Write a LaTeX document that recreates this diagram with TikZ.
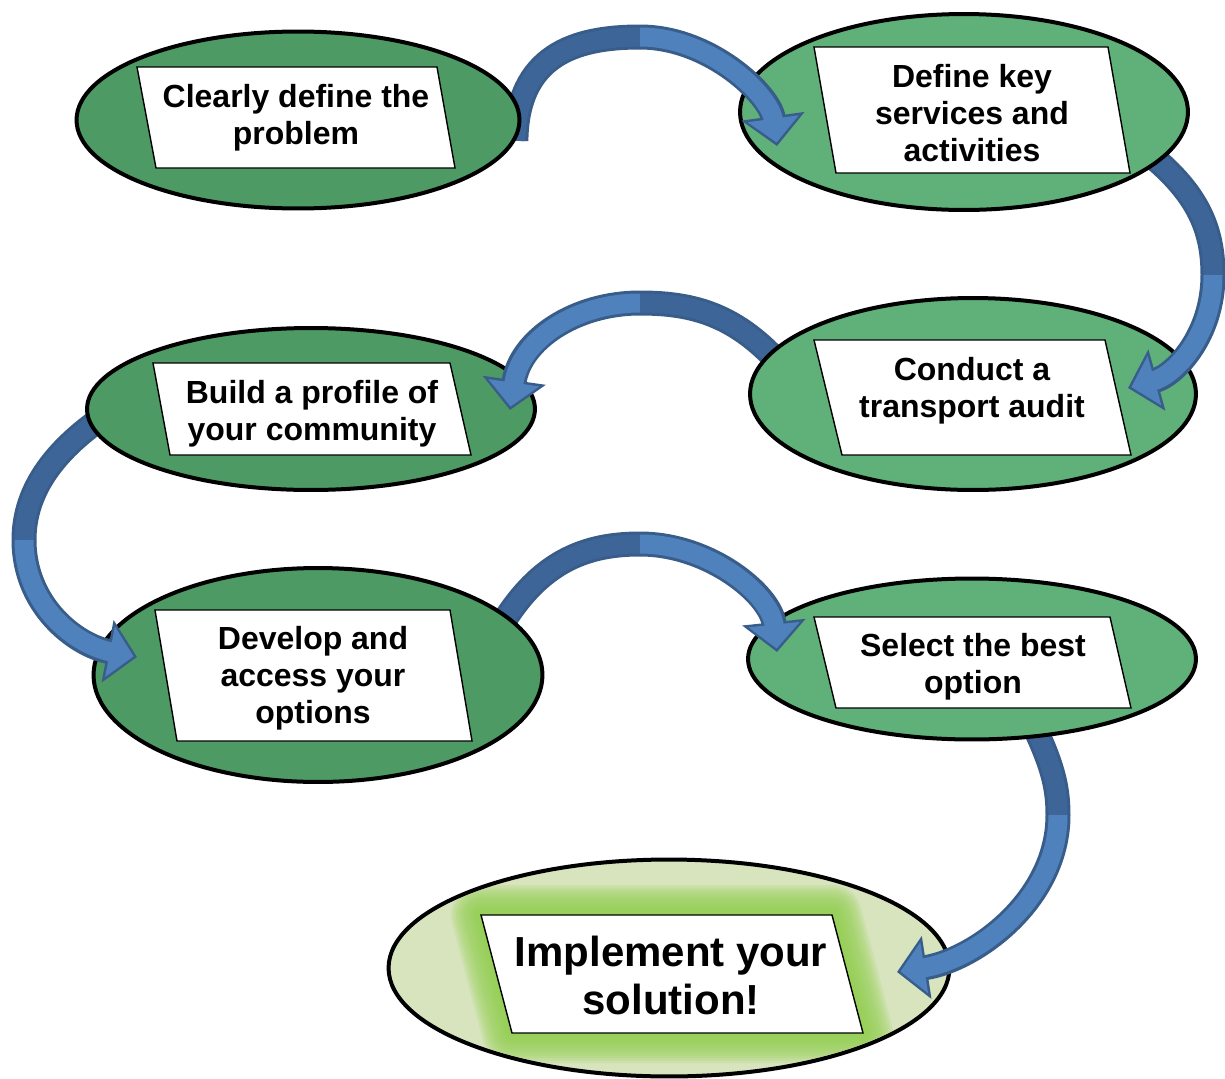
\documentclass[tikz,border=0pt]{standalone}
\usepackage{fontspec}
\setmainfont{Liberation Sans}
\usetikzlibrary{arrows.meta,shapes.geometric,backgrounds}
\definecolor{PLleaf}{RGB}{78,154,101}
\definecolor{PLmint}{RGB}{96,176,122}
\definecolor{PLpale}{RGB}{215,228,189}
\definecolor{PLglow}{RGB}{146,208,80}
\definecolor{PLblue}{RGB}{79,129,189}
\definecolor{PLdeep}{RGB}{62,101,151}
\definecolor{PLedge}{RGB}{56,93,138}
\tikzset{
  bubble/.style={ellipse,draw=black,line width=0.08cm,inner sep=0pt},
  card/.style={draw=black,line width=0.8pt,fill=white,line join=miter},
  say/.style={align=center,inner sep=0pt,font=\fontsize{18.2}{21}\selectfont\bfseries},
  saybig/.style={align=center,inner sep=0pt,font=\fontsize{23.9}{27.3}\selectfont\bfseries},
  band/.style={line width=0.5cm,draw=PLedge},
  bandtip/.style={band,-{Triangle[length=0.6cm,width=1.24cm]}},
  bandback/.style={line width=0.38cm,draw=PLdeep},
  bandface/.style={line width=0.38cm,draw=PLblue,
                   -{Triangle[length=0.48cm,width=1.0cm]},shorten >=0.07cm}
}

\begin{document}
\begin{tikzpicture}[x=0.02cm,y=-0.02cm]
  \useasboundingbox (0,0) rectangle (1225,1079);

  % the seven steps
  \node[bubble,fill=PLleaf,minimum width=8.86cm,minimum height=3.54cm] (clear) at (298,120) {};
  \node[bubble,fill=PLmint,minimum width=8.96cm,minimum height=3.92cm] (define) at (964,112) {};
  \node[bubble,fill=PLmint,minimum width=8.92cm,minimum height=3.84cm] (conduct) at (973,394) {};
  \node[bubble,fill=PLleaf,minimum width=8.96cm,minimum height=3.24cm] (build) at (311,409) {};
  \node[bubble,fill=PLleaf,minimum width=8.98cm,minimum height=4.28cm] (develop) at (318,675) {};
  \node[bubble,fill=PLmint,minimum width=8.96cm,minimum height=3.22cm] (select) at (972,659) {};
  \node[bubble,fill=PLpale,minimum width=11.22cm,minimum height=4.34cm] (impl) at (669,968) {};

  \draw[card] (137,67) -- (437,67) -- (455,168) -- (156,168) -- cycle;
  \node[say] (clear-t) at (296,118) {Clearly define the\\problem};
  \draw[card] (814,47) -- (1108,47) -- (1130,173) -- (836,173) -- cycle;
  \node[say] (define-t) at (972,113) {Define key\\services and\\activities};
  \draw[card] (814,340) -- (1105,340) -- (1131,455) -- (842,455) -- cycle;
  \node[say] (conduct-t) at (972,391) {Conduct a\\transport audit};
  \draw[card] (153,363) -- (450,363) -- (471,455) -- (170,455) -- cycle;
  \node[say] (build-t) at (312,414) {Build a profile of\\your community};
  \draw[card] (155,610) -- (450,610) -- (472,741) -- (177,741) -- cycle;
  \node[say] (develop-t) at (313,678) {Develop and\\access your\\options};
  \draw[card] (814,617) -- (1110,617) -- (1131,708) -- (836,708) -- cycle;
  \node[say] (select-t) at (973,667) {Select the best\\option};

  % last step gets a soft green halo, kept inside its bubble
  \begin{scope}
    \clip (impl.center) ellipse [x radius=5.56cm,y radius=2.12cm];
    \foreach \w in {0.1,0.2,...,1.2}
      \draw[PLglow,line width=\w cm,opacity=0.17,line join=round]
        (481,915) -- (832,915) -- (863,1033) -- (512,1033) -- cycle;
  \end{scope}
  \draw[card] (481,915) -- (832,915) -- (863,1033) -- (512,1033) -- cycle;
  \node[saybig] (impl-t) at (671,975) {Implement your\\solution!};

  % curved arrows: rising half behind the bubbles, falling half on top
  \coordinate (m1) at (640,37);   \coordinate (tip1) at (777,146);
  \coordinate (m2) at (1213,275); \coordinate (tip2) at (1128,388);
  \coordinate (m3) at (640,303);  \coordinate (tip3) at (510,410);
  \coordinate (m4) at (24,540);   \coordinate (tip4) at (137,657);
  \coordinate (m5) at (640,544);  \coordinate (tip5) at (777,652);
  \coordinate (m6) at (1058,815); \coordinate (tip6) at (897,972);

  \begin{scope}[on background layer]
    \draw[band,shorten <=-0.8cm] (clear.5) .. controls (517,55) and (575,37) .. (m1);
    \draw[bandback,shorten <=-0.8cm] (clear.5) .. controls (517,55) and (575,37) .. (m1);
    \draw[band,shorten <=-0.8cm] (define.-14) .. controls (1195,185) and (1213,225) .. (m2);
    \draw[bandback,shorten <=-0.8cm] (define.-14) .. controls (1195,185) and (1213,225) .. (m2);
    \draw[band,shorten <=-0.8cm] (conduct.168) .. controls (745,318) and (700,303) .. (m3);
    \draw[bandback,shorten <=-0.8cm] (conduct.168) .. controls (745,318) and (700,303) .. (m3);
    \draw[band,shorten <=-0.8cm] (build.184) .. controls (55,445) and (24,490) .. (m4);
    \draw[bandback,shorten <=-0.8cm] (build.184) .. controls (55,445) and (24,490) .. (m4);
    \draw[band,shorten <=-0.8cm] (develop.18) .. controls (530,565) and (580,544) .. (m5);
    \draw[bandback,shorten <=-0.8cm] (develop.18) .. controls (530,565) and (580,544) .. (m5);
    \draw[band,shorten <=-0.8cm] (select.-49) .. controls (1052,760) and (1058,785) .. (m6);
    \draw[bandback,shorten <=-0.8cm] (select.-49) .. controls (1052,760) and (1058,785) .. (m6);
  \end{scope}

  \draw[bandtip] (m1) .. controls (710,37) and (770,95) .. (tip1);
  \draw[bandface] (m1) .. controls (710,37) and (770,95) .. (tip1);
  \draw[bandtip] (m2) .. controls (1213,335) and (1175,375) .. (tip2);
  \draw[bandface] (m2) .. controls (1213,335) and (1175,375) .. (tip2);
  \draw[bandtip] (m3) .. controls (575,303) and (520,340) .. (tip3);
  \draw[bandface] (m3) .. controls (575,303) and (520,340) .. (tip3);
  \draw[bandtip] (m4) .. controls (24,605) and (75,645) .. (tip4);
  \draw[bandface] (m4) .. controls (24,605) and (75,645) .. (tip4);
  \draw[bandtip] (m5) .. controls (710,544) and (771,595) .. (tip5);
  \draw[bandface] (m5) .. controls (710,544) and (771,595) .. (tip5);
  \draw[bandtip] (m6) .. controls (1058,900) and (975,960) .. (tip6);
  \draw[bandface] (m6) .. controls (1058,900) and (975,960) .. (tip6);
\end{tikzpicture}
\end{document}
